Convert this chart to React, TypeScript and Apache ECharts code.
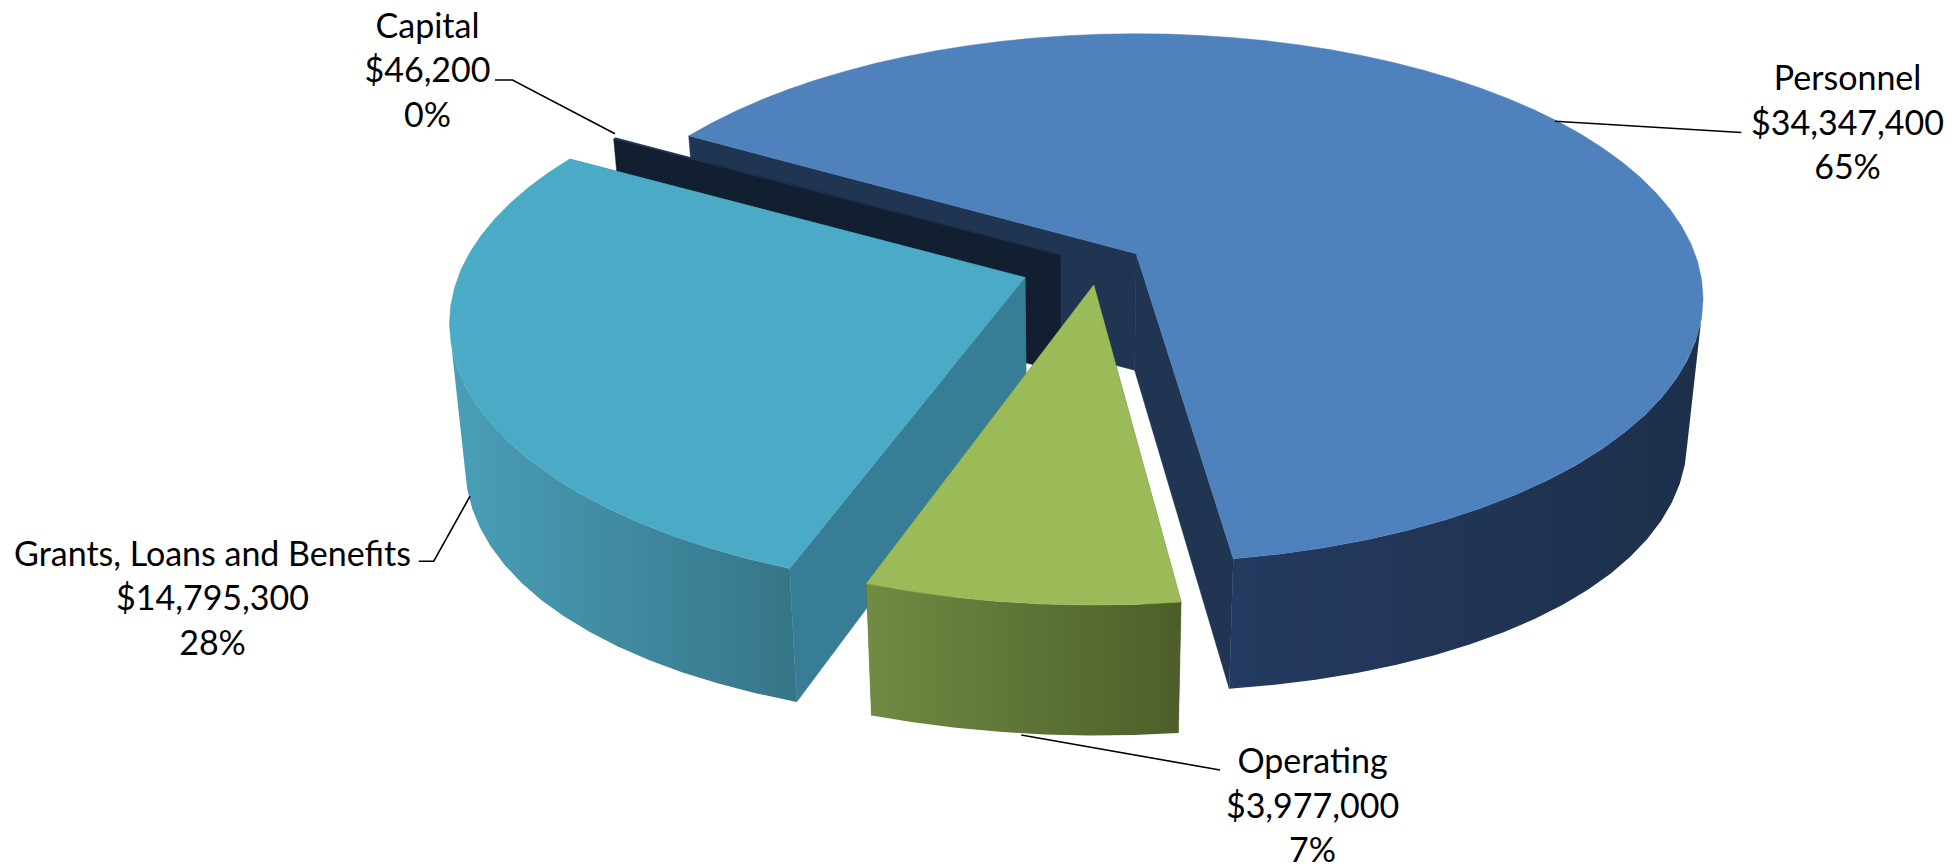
import React, { useEffect, useRef } from "react";
import * as echarts from "echarts";

const categories = ["Personnel", "Operating", "Grants, Loans and Benefits", "Capital"];
const amounts = [34347400, 3977000, 14795300, 46200];

const FONT = "Lato, 'Open Sans', sans-serif";
const S = 1.25;
const FIRST_ANGLE = 299.8;
const A = 447;
const B = 205.6;
const K = 0.168;
const VANISH_X = 857;
const SHRINK = 0.975;
const LINE_GAP = 44.4;

type Look = {
  apex: [number, number];
  scale: number;
  nudge: [number, number];
  top: string;
  face: string;
  wall: [string, string];
  z: number;
  label: [number, number];
  leader: number[][];
};

const looks: Look[] = [
  { apex: [909, 203], scale: 1.0, nudge: [0, -0.7], top: "#4F81BD", face: "#1F3552", wall: ["#243A60", "#1D304A"], z: 10,
    label: [1478, 97], leader: [[1244, 97], [1393, 106]] },
  { apex: [875, 228], scale: 1.03, nudge: [0.4, 0], top: "#9BBB59", face: "#5C7034", wall: ["#708B42", "#4D5E2B"], z: 40,
    label: [1050, 643.5], leader: [[817, 588], [976, 616]] },
  { apex: [820, 222], scale: 1.015, nudge: [1.1, 0], top: "#4BAAC5", face: "#377D95", wall: ["#4A9FB8", "#367588"], z: 30,
    label: [170, 477.5], leader: [[376, 397], [347, 449], [335, 449]] },
  { apex: [848, 204], scale: 0.993, nudge: [0, 0], top: "#1F3552", face: "#121F30", wall: ["#121F30", "#121F30"], z: 20,
    label: [342, 55], leader: [[492, 107], [410, 64], [396, 64]] },
];

const money = (v: number) => "$" + v.toLocaleString("en-US");

function rimPoint(look: Look, deg: number): [number, number] {
  const t = (deg * Math.PI) / 180;
  const u = Math.sin(t) * look.scale;
  const v = -Math.cos(t) * look.scale;
  const w = 1 - K * v;
  return [look.apex[0] + (A * u) / w, look.apex[1] + (B * v) / w];
}

function drop(p: [number, number]): [number, number] {
  const off = Math.abs(p[0] - VANISH_X) / 500;
  return [VANISH_X + (p[0] - VANISH_X) * SHRINK, p[1] + 93 + (p[1] - 203) * 0.04 + 18 * off * off];
}

function arc(look: Look, from: number, to: number): [number, number][] {
  const pts: [number, number][] = [];
  const n = Math.max(2, Math.ceil((to - from) / 4));
  for (let i = 0; i <= n; i++) pts.push(rimPoint(look, from + ((to - from) * i) / n));
  return pts;
}

const up = (pts: number[][]) => pts.map((p) => [p[0] * S, p[1] * S]);

export default function App() {
  const ref = useRef<HTMLDivElement>(null);
  useEffect(() => {
    document.body.style.margin = "0";
    const chart = echarts.init(ref.current!, undefined, { renderer: "svg" });
    const total = amounts.reduce((s, v) => s + v, 0);
    const starts: number[] = [];
    amounts.reduce((acc, v, i) => {
      starts[i] = acc;
      return acc + (v / total) * 360;
    }, FIRST_ANGLE);

    const renderItem = (params: any, api: any) => {
      const i = params.dataIndex;
      const look = looks[i];
      const value = api.value(0) as number;
      const from = starts[i] + look.nudge[0];
      const to = starts[i] + (value / total) * 360 + look.nudge[1];
      const apex = look.apex;
      const apexLow = drop(apex);
      const children: any[] = [];
      const poly = (points: number[][], fill: any, z2: number) =>
        children.push({
          type: "polygon",
          z2,
          shape: { points: up(points) },
          style: { fill, stroke: typeof fill === "string" ? fill : undefined, lineWidth: typeof fill === "string" ? 0.5 : 0 },
        });

      // cut faces
      [from, to].forEach((deg) => {
        const p = rimPoint(look, deg);
        poly([apex, p, drop(p), apexLow], look.face, look.z);
      });

      // front part of the outer wall, between the two silhouette angles
      [0, 360].forEach((shift) => {
        const a = Math.max(from, 101 + shift);
        const b = Math.min(to, 259 + shift);
        if (b > a) {
          const rim = arc(look, a, b);
          const low = rim.map(drop).reverse();
          poly(
            [...rim, ...low],
            new echarts.graphic.LinearGradient(0, 0, 1, 0, [
              { offset: 0, color: look.wall[0] },
              { offset: 1, color: look.wall[1] },
            ]),
            look.z + 1
          );
        }
      });

      // top
      poly([apex, ...arc(look, from, to)], look.top, look.z + 2);

      // leader + label
      children.push({
        type: "polyline",
        z2: 100,
        shape: { points: up(look.leader) },
        style: { fill: "none", stroke: "#000", lineWidth: 1.6 },
      });
      const lines = [categories[i], money(value), `${Math.round((value / total) * 100)}%`];
      lines.forEach((text, n) => {
        children.push({
          type: "text",
          z2: 101,
          x: look.label[0] * S,
          y: look.label[1] * S + (n - 1) * LINE_GAP,
          style: {
            text,
            fill: "#000",
            fontFamily: FONT,
            fontSize: 34,
            align: "center",
            verticalAlign: "middle",
          },
        });
      });
      return { type: "group", children };
    };

    chart.setOption({
      animation: false,
      backgroundColor: "#fff",
      series: [
        {
          type: "custom",
          coordinateSystem: "none",
          silent: true,
          clip: false,
          renderItem,
          data: amounts.map((v) => [v]),
        },
      ],
    });
    return () => chart.dispose();
  }, []);
  return <div ref={ref} style={{ position: "absolute", left: 0, top: 0, width: 1960, height: 868 }} />;
}
